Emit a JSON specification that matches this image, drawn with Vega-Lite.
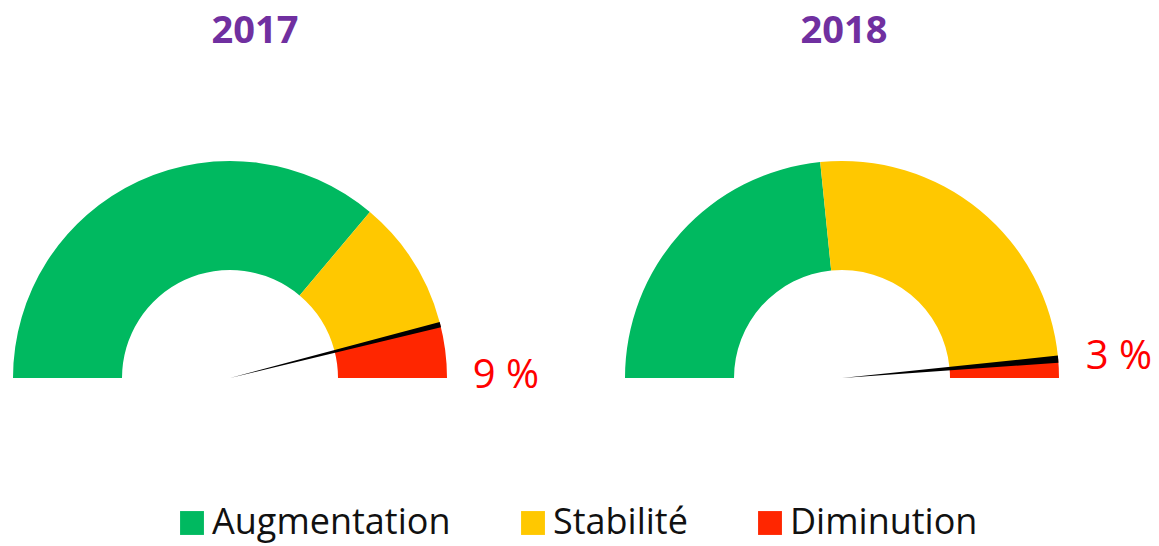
{
  "$schema": "https://vega.github.io/schema/vega-lite/v6.json",
  "width": 1159,
  "height": 546,
  "autosize": "none",
  "padding": 0,
  "background": "white",
  "config": {"view": {"stroke": null}, "font": "Open Sans"},
  "datasets": {
    "segments": [
      {"annee": "2017", "categorie": "Augmentation", "rang": 1, "part": 72.3},
      {"annee": "2017", "categorie": "Stabilité", "rang": 2, "part": 19.5},
      {"annee": "2017", "categorie": "Diminution", "rang": 3, "part": 8.2},
      {"annee": "2018", "categorie": "Augmentation", "rang": 1, "part": 46.8},
      {"annee": "2018", "categorie": "Stabilité", "rang": 2, "part": 50.2},
      {"annee": "2018", "categorie": "Diminution", "rang": 3, "part": 3.0}
    ],
    "aiguille": [
      {"annee": "2017", "debut": 91.7, "fin": 92.5, "etiquette": "9 %"},
      {"annee": "2018", "debut": 96.7, "fin": 97.75, "etiquette": "3 %"}
    ]
  },
  "layer": [
    {
      "data": {"name": "segments"},
      "transform": [
        {"stack": "part", "groupby": ["annee"], "sort": [{"field": "rang", "order": "ascending"}], "as": ["v0", "v1"]}
      ],
      "mark": {"type": "arc", "outerRadius": 217, "innerRadius": 108},
      "encoding": {
        "x": {"field": "annee", "type": "nominal", "scale": {"type": "point", "domain": ["2017", "2018"], "range": [230, 842], "padding": 0}, "axis": null},
        "y": {"datum": 0, "type": "quantitative", "scale": {"domain": [0, 1], "range": [378, 43], "nice": false, "zero": false}, "axis": null},
        "theta": {"field": "v0", "type": "quantitative", "scale": {"domain": [0, 100], "range": [-1.5708, 1.5708]}},
        "theta2": {"field": "v1"},
        "color": {
          "field": "categorie",
          "type": "nominal",
          "scale": {"domain": ["Augmentation", "Stabilité", "Diminution"], "range": ["#00B960", "#FFC800", "#FF2600"]},
          "legend": {
            "title": null,
            "orient": "none",
            "legendX": 174,
            "legendY": 505,
            "direction": "horizontal",
            "symbolType": "square",
            "symbolSize": 570,
            "symbolStrokeWidth": 0,
            "labelFont": "Open Sans",
            "labelFontSize": 36,
            "labelColor": "#111111",
            "labelLimit": 500,
            "labelOffset": 2,
            "columnPadding": 64,
            "padding": 0
          }
        }
      }
    },
    {
      "data": {"name": "aiguille"},
      "mark": {"type": "arc", "outerRadius": 217, "innerRadius": 0, "color": "#000000"},
      "encoding": {
        "x": {"field": "annee", "type": "nominal"},
        "y": {"datum": 0, "type": "quantitative"},
        "theta": {"field": "debut", "type": "quantitative"},
        "theta2": {"field": "fin"}
      }
    },
    {
      "data": {"name": "aiguille"},
      "transform": [{"filter": "datum.annee == '2017'"}],
      "mark": {"type": "text", "fontSize": 40, "color": "#FF0000", "align": "center", "baseline": "alphabetic", "dx": 276, "dy": 10},
      "encoding": {
        "x": {"field": "annee", "type": "nominal"},
        "y": {"datum": 0, "type": "quantitative"},
        "text": {"field": "etiquette"}
      }
    },
    {
      "data": {"name": "aiguille"},
      "transform": [{"filter": "datum.annee == '2018'"}],
      "mark": {"type": "text", "fontSize": 40, "color": "#FF0000", "align": "center", "baseline": "alphabetic", "dx": 277, "dy": -9},
      "encoding": {
        "x": {"field": "annee", "type": "nominal"},
        "y": {"datum": 0, "type": "quantitative"},
        "text": {"field": "etiquette"}
      }
    },
    {
      "data": {"name": "aiguille"},
      "transform": [{"filter": "datum.annee == '2017'"}],
      "mark": {"type": "text", "fontSize": 38, "fontWeight": "bold", "color": "#7030A0", "align": "center", "baseline": "alphabetic", "dx": 25},
      "encoding": {
        "x": {"field": "annee", "type": "nominal"},
        "y": {"datum": 1, "type": "quantitative"},
        "text": {"field": "annee"}
      }
    },
    {
      "data": {"name": "aiguille"},
      "transform": [{"filter": "datum.annee == '2018'"}],
      "mark": {"type": "text", "fontSize": 38, "fontWeight": "bold", "color": "#7030A0", "align": "center", "baseline": "alphabetic", "dx": 2},
      "encoding": {
        "x": {"field": "annee", "type": "nominal"},
        "y": {"datum": 1, "type": "quantitative"},
        "text": {"field": "annee"}
      }
    }
  ]
}
